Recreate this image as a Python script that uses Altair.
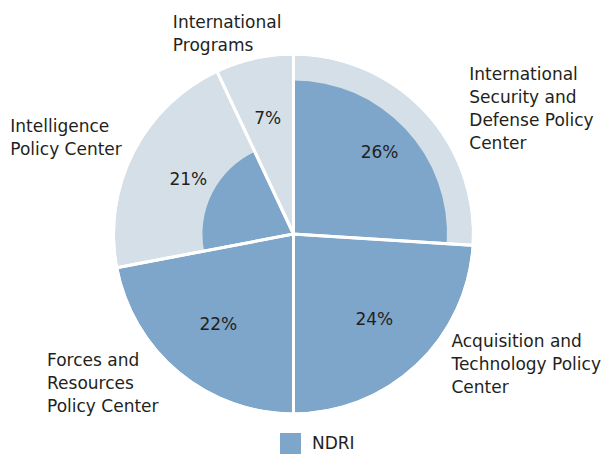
import altair as alt
import pandas as pd

# ---- data ----
centers = [
    "International Security and Defense Policy Center",
    "Acquisition and Technology Policy Center",
    "Forces and Resources Policy Center",
    "Intelligence Policy Center",
    "International Programs",
]
shares = [26, 24, 22, 21, 7]
# fraction of each slice's radius filled by NDRI (dark inner wedge)
ndri_fraction = [0.86, 1.0, 1.0, 0.51, 0.0]
pct_labels = ["26%", "24%", "22%", "21%", "7%"]
label_lines = [
    "International\nSecurity and\nDefense Policy\nCenter",
    "Acquisition and\nTechnology Policy\nCenter",
    "Forces and\nResources\nPolicy Center",
    "Intelligence\nPolicy Center",
    "International\nPrograms",
]
series_name = ["NDRI"]

df = pd.DataFrame({
    "center": centers,
    "share": shares,
    "ndri": ndri_fraction,
    "pct": pct_labels,
    "label": label_lines,
    "order": list(range(len(centers))),
    "series": series_name * len(centers),
})

DARK = "#7ea5ca"
LIGHT = "#d4dfe8"
TEXT = "#231f20"
FONT = "DejaVu Sans"
FS = 17
R = 178.5
CX, CY = 285.5, 226

theta_scale = alt.Scale(domain=[0, 100], range=[0, 6.283185307179586])
rad_scale = alt.Scale(type="linear", domain=[0, 1], range=[0, R], zero=True)

base = alt.Chart(df).transform_window(
    end="sum(share)", sort=[alt.SortField("order", order="ascending")], frame=[None, 0]
).transform_calculate(
    start="datum.end - datum.share",
    mid="datum.end - datum.share / 2",
)

cx = alt.value(CX)
cy = alt.value(CY)
th = alt.Theta("start:Q", scale=theta_scale)
th2 = alt.Theta2("end:Q")
thm = alt.Theta("mid:Q", scale=theta_scale)

light = base.mark_arc(radius=R, fill=LIGHT, strokeWidth=0).encode(theta=th, theta2=th2, x=cx, y=cy)

dark = base.mark_arc(strokeWidth=0).encode(
    theta=th,
    theta2=th2,
    x=cx,
    y=cy,
    radius=alt.Radius("ndri:Q", scale=rad_scale),
    color=alt.Color(
        "series:N",
        scale=alt.Scale(domain=series_name, range=[DARK]),
        legend=alt.Legend(
            title=None,
            orient="none",
            legendX=272,
            legendY=425,
            symbolType="square",
            symbolSize=441,
            symbolStrokeWidth=0,
            symbolOpacity=1,
            labelFont=FONT,
            labelFontSize=FS,
            labelColor=TEXT,
            labelOffset=11,
            padding=0,
        ),
    ),
)

sep = base.mark_arc(radius=R + 1.5, fillOpacity=0, stroke="white", strokeWidth=3).encode(
    theta=th, theta2=th2, x=cx, y=cy
)

pct = base.mark_text(radius=118, font=FONT, fontSize=FS, color=TEXT, align="center", baseline="middle").encode(
    theta=thm, x=cx, y=cy, text="pct:N"
)

# outside labels: per-label placement around the pie
placement = {
    centers[0]: dict(dx=30, dy=-30),
    centers[1]: dict(dx=21, dy=-46),
    centers[2]: dict(dx=-119, dy=-35),
    centers[3]: dict(dx=-105, dy=-24),
    centers[4]: dict(dx=-77, dy=-24),
}
label_layers = []
for c in centers:
    p = placement[c]
    label_layers.append(
        base.transform_filter(alt.datum.center == c)
        .mark_text(radius=200, font=FONT, fontSize=FS, color=TEXT, align="left", baseline="top",
                   lineBreak="\n", lineHeight=23, dx=p["dx"], dy=p["dy"])
        .encode(theta=thm, x=cx, y=cy, text="label:N")
    )

chart = alt.layer(light, dark, sep, pct, *label_layers).properties(
    width=596, height=446, autosize=alt.AutoSizeParams(type="none"), padding=0
).configure_view(stroke=None)

chart.save("out.html", embed_options={"renderer": "svg", "actions": False})
